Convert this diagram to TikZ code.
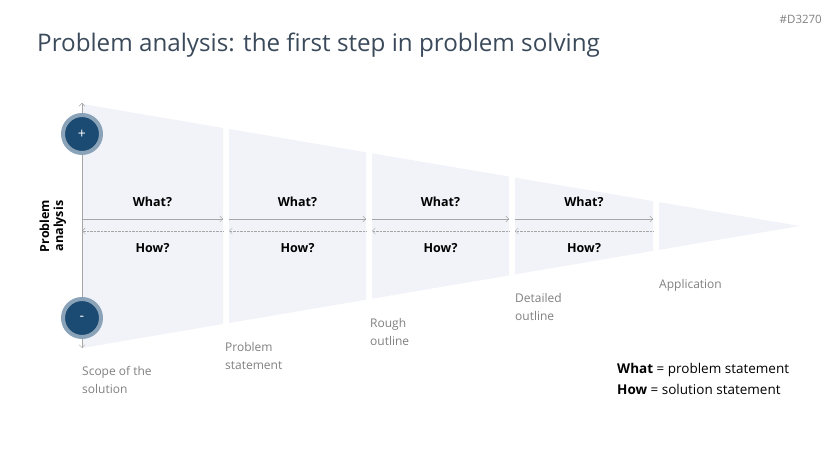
\documentclass[tikz,border=0pt]{standalone}
\usepackage{fontspec}
\setmainfont{Open Sans}
\usepackage{tikz}
\usetikzlibrary{arrows.meta,positioning}
\definecolor{navy}{HTML}{1B4A72}
\definecolor{ring}{HTML}{8AA3B8}
\definecolor{funnel}{HTML}{F1F3F9}
\definecolor{titlecol}{HTML}{3B4A5A}
\tikzset{
    every node/.style={font=\fontsize{12.5}{15}\selectfont},
    lbl/.style={anchor=north west,align=left,text=gray,inner sep=0pt,font=\fontsize{12}{18}\selectfont},
    ask/.style={font=\bfseries\fontsize{12.5}{15}\selectfont},
    sign/.style={circle,fill=navy,draw=ring,line width=4pt,minimum size=38pt,text=white,inner sep=0pt,font=\fontsize{14}{14}\selectfont}
}
\begin{document}
\begin{tikzpicture}[x=1pt,y=-1pt]
            \useasboundingbox (0,0) rectangle (836,470);
            % Title
            \node[anchor=west,text=titlecol,font=\fontsize{24.2}{27}\selectfont,inner sep=0pt] (title) at (37,45) {Problem analysis: the first step in problem solving};
            \node[anchor=east,text=gray,font=\fontsize{11.5}{13}\selectfont,inner sep=0pt] (code) at (822,19) {\#D3270};
            
            % Funnel segments
            \foreach \a/\b in {82/223,229/366,372/509,515/653,659/800}
                \fill[funnel] (\a,{104+0.17*(\a-82)}) -- (\b,{104+0.17*(\b-82)})
                    -- (\b,{348-0.17*(\b-82)}) -- (\a,{348-0.17*(\a-82)}) -- cycle;
            
            % What / How arrows
            \foreach \a/\b in {82/223,229/366,372/509,515/653} {
                \draw[gray!70,-{Straight Barb[length=3pt]}] (\a,219) -- (\b,219);
                \draw[gray!70,densely dotted,-{Straight Barb[length=3pt]}] (\b,231) -- (\a,231);
                \node[ask] at ({(\a+\b)/2},202) {What?};
                \node[ask] at ({(\a+\b)/2},248) {How?};
            }
            
            % Vertical axis
            \draw[gray!70,{Straight Barb[length=3pt]}-{Straight Barb[length=3pt]}] (82,103) -- (82,348);
            \node[sign] (plus) at (82,134) {+};
            \node[sign] (minus) at (82,318) {-};
            \node[rotate=90,align=center,font=\bfseries\fontsize{12.5}{14}\selectfont] (axis) at (53,226) {Problem\\analysis};
            
            % Stage labels
            \node[lbl] (scope) at (82,366) {Scope of the\\solution};
            \node[lbl] (stmt) at (225,342) {Problem\\statement};
            \node[lbl] (rough) at (370,318) {Rough\\outline};
            \node[lbl] (detail) at (515,293) {Detailed\\outline};
            \node[lbl] (appl) at (659,279) {Application};
            
            % Legend
            \node[anchor=north west,align=left,inner sep=0pt,font=\fontsize{13.5}{21}\selectfont] (legend) at (617,363)
                {\textbf{What} = problem statement\\\textbf{How} = solution statement};
        \end{tikzpicture}
\end{document}
